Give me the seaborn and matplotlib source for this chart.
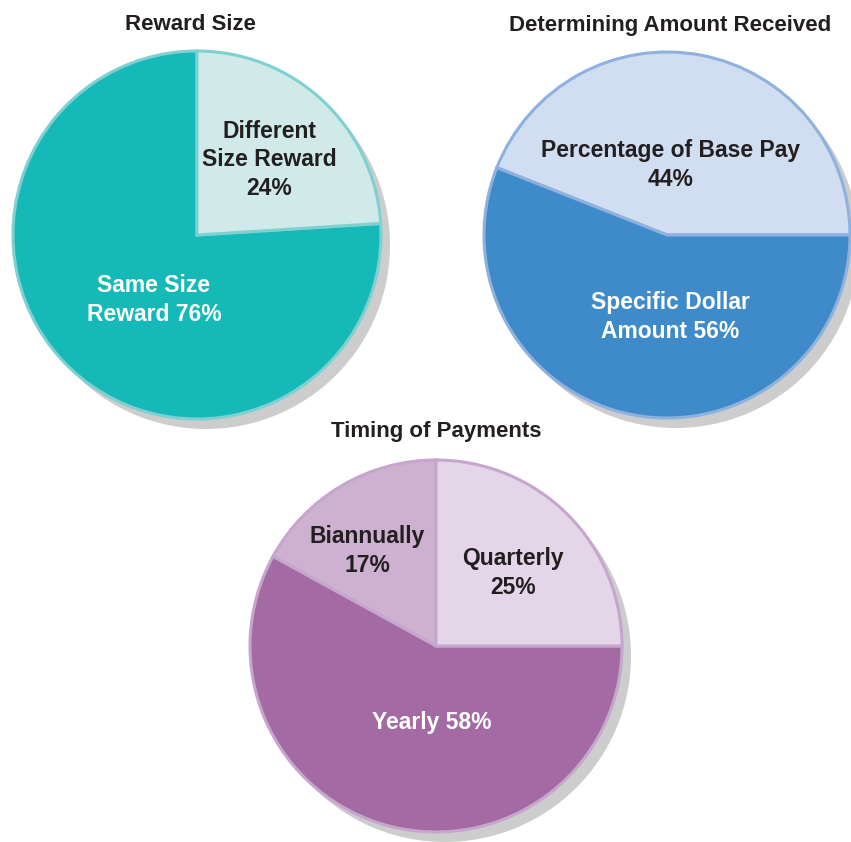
import matplotlib
matplotlib.use("Agg")
import matplotlib.pyplot as plt
import seaborn as sns

sns.set_theme(style="white")
plt.rcParams["font.family"] = ["Liberation Sans", "DejaVu Sans"]

# ---- data ----
reward_labels = ["Same Size\nReward 76%", "Different\nSize Reward\n24%"]
reward_values = [76, 24]

amount_labels = ["Percentage of Base Pay\n44%", "Specific Dollar\nAmount 56%"]
amount_values = [44, 56]

timing_labels = ["Biannually\n17%", "Yearly 58%", "Quarterly\n25%"]
timing_values = [17, 58, 25]

titles = ["Reward Size", "Determining Amount Received", "Timing of Payments"]

# ---- styling ----
teal = sns.color_palette(["#14b9b8", "#d0eaea"])
blue = sns.color_palette(["#d1ddf0", "#3f8bc9"])
purple = sns.color_palette(["#ceb0d1", "#a36aa3", "#e4d6e8"])
edges = ["#7fd0d0", "#8eb1de", "#c6a6cc"]
shadow = "#cdcdcd"
ink = "#231f20"

W, H = 851, 842
fig = plt.figure(figsize=(W / 100, H / 100), dpi=100)
ax = fig.add_axes([0, 0, 1, 1])


def py(y):
    return H - y


def draw_pie(values, labels, colors, edge, cx, cy, r, start, label_pos, label_colors, fs):
    # drop shadow
    ax.pie([1], colors=[shadow], center=(cx + 9, py(cy) - 10), radius=r,
           wedgeprops=dict(linewidth=0))
    ax.pie(values, colors=colors, center=(cx, py(cy)), radius=r,
           startangle=start, counterclock=True,
           wedgeprops=dict(edgecolor=edge, linewidth=2.2))
    for lab, (lx, ly), c in zip(labels, label_pos, label_colors):
        ax.text(lx, py(ly), lab, ha="center", va="center", color=c,
                fontsize=fs, fontweight="bold", linespacing=1.33)


draw_pie(reward_values, reward_labels, teal, edges[0], 197, 235, 184, 90,
         [(154, 300), (269, 160)], ["white", ink], 16.5)
draw_pie(amount_values, amount_labels, blue, edges[1], 667, 235, 183, 0,
         [(671, 165), (670, 317)], [ink, "white"], 16.5)
draw_pie(timing_values, timing_labels, purple, edges[2], 436, 646, 186, 90,
         [(367, 551), (432, 722), (513, 573)], [ink, "white", ink], 16.5)

for t, (tx, ty) in zip(titles, [(190, 25), (670, 25), (436, 431)]):
    ax.text(tx, py(ty), t, ha="center", va="center", fontsize=16,
            fontweight="bold", color=ink)

ax.set_xlim(0, W)
ax.set_ylim(0, H)
ax.set_aspect("equal")
ax.axis("off")

fig.savefig("out.png", dpi=100, facecolor="white")
